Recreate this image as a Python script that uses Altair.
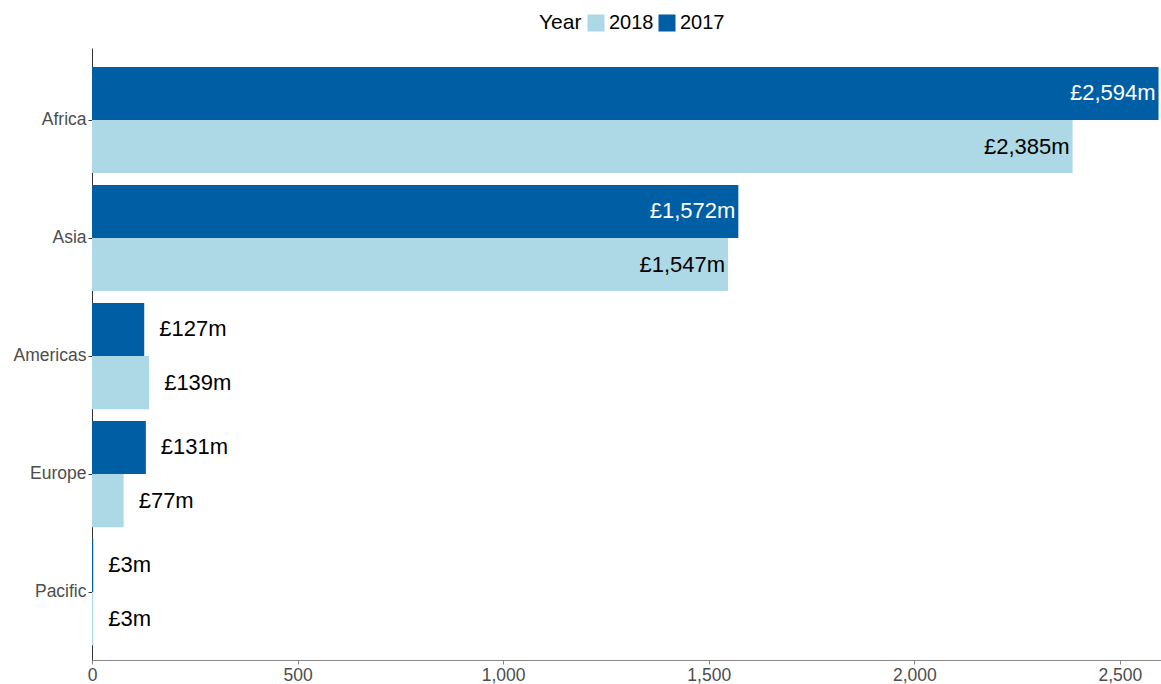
import altair as alt
import pandas as pd

regions = ["Africa", "Asia", "Americas", "Europe", "Pacific"]
values_2017 = [2594, 1572, 127, 131, 3]
values_2018 = [2385, 1547, 139, 77, 3]
x_ticks = [0, 500, 1000, 1500, 2000, 2500]

rows = []
for r, a, b in zip(regions, values_2017, values_2018):
    rows.append({"region": r, "year": "2017", "value": a})
    rows.append({"region": r, "year": "2018", "value": b})
df = pd.DataFrame(rows)
df["label"] = df["value"].map(lambda v: f"£{v:,}m")
df["inside"] = df["value"] > 1000
df["tcolor"] = df.apply(lambda r: "white" if (r["inside"] and r["year"] == "2017") else "black", axis=1)

FONT = "Liberation Sans"
DARK = "#005EA5"
LIGHT = "#ADD8E6"

y_enc = alt.Y("region:N", sort=regions, title=None,
              scale=alt.Scale(paddingInner=0.1, paddingOuter=0.143, align=0.56),
              axis=alt.Axis(labelFontSize=17.5, labelColor="#4D4D4D", labelFont=FONT,
                            domainColor="#333333", tickColor="#333333", tickSize=4,
                            labelPadding=2, grid=False))
yoff = alt.YOffset("year:N", sort=["2017", "2018"])
x_enc = alt.X("value:Q", title=None,
              scale=alt.Scale(domain=[0, 2600], nice=False),
              axis=alt.Axis(values=x_ticks, format=",d", labelFontSize=17.5, labelColor="#4D4D4D",
                            labelFont=FONT, domainColor="#888888", tickColor="#888888",
                            tickSize=4, grid=False, labelFlush=False, labelPadding=2))

bars = alt.Chart(df).mark_bar().encode(
    x=x_enc,
    y=y_enc,
    yOffset=yoff,
    color=alt.Color("year:N",
                    scale=alt.Scale(domain=["2018", "2017"], range=[LIGHT, DARK]),
                    legend=alt.Legend(title="Year", orient="none", direction="horizontal",
                                      legendX=447, legendY=-35, titleOrient="left",
                                      titleFontSize=21, titleFont=FONT, titleFontWeight="normal",
                                      titleColor="black", labelFontSize=20, labelFont=FONT,
                                      labelColor="black", symbolType="square", symbolSize=290,
                                      symbolStrokeWidth=0, columnPadding=3, labelOffset=3,
                                      titlePadding=4)),
)

inside = alt.Chart(df).transform_filter("datum.inside").mark_text(
    align="right", baseline="middle", dx=-3, fontSize=22, font=FONT
).encode(
    x=x_enc, y=y_enc, yOffset=yoff,
    text="label:N", color=alt.Color("tcolor:N", scale=None),
)

outside = alt.Chart(df).transform_filter("!datum.inside").mark_text(
    align="left", baseline="middle", dx=15, fontSize=22, font=FONT, color="black"
).encode(
    x=x_enc, y=y_enc, yOffset=yoff,
    text="label:N",
)

chart = alt.layer(bars, inside, outside).properties(
    width=1069, height=612,
    background="white",
    autosize=alt.AutoSizeParams(type="none"),
    padding={"left": 92, "top": 48, "right": 0, "bottom": 24},
).configure_view(strokeWidth=0, stroke="transparent")

chart.save("out.html", embed_options={"renderer": "svg", "actions": False})
